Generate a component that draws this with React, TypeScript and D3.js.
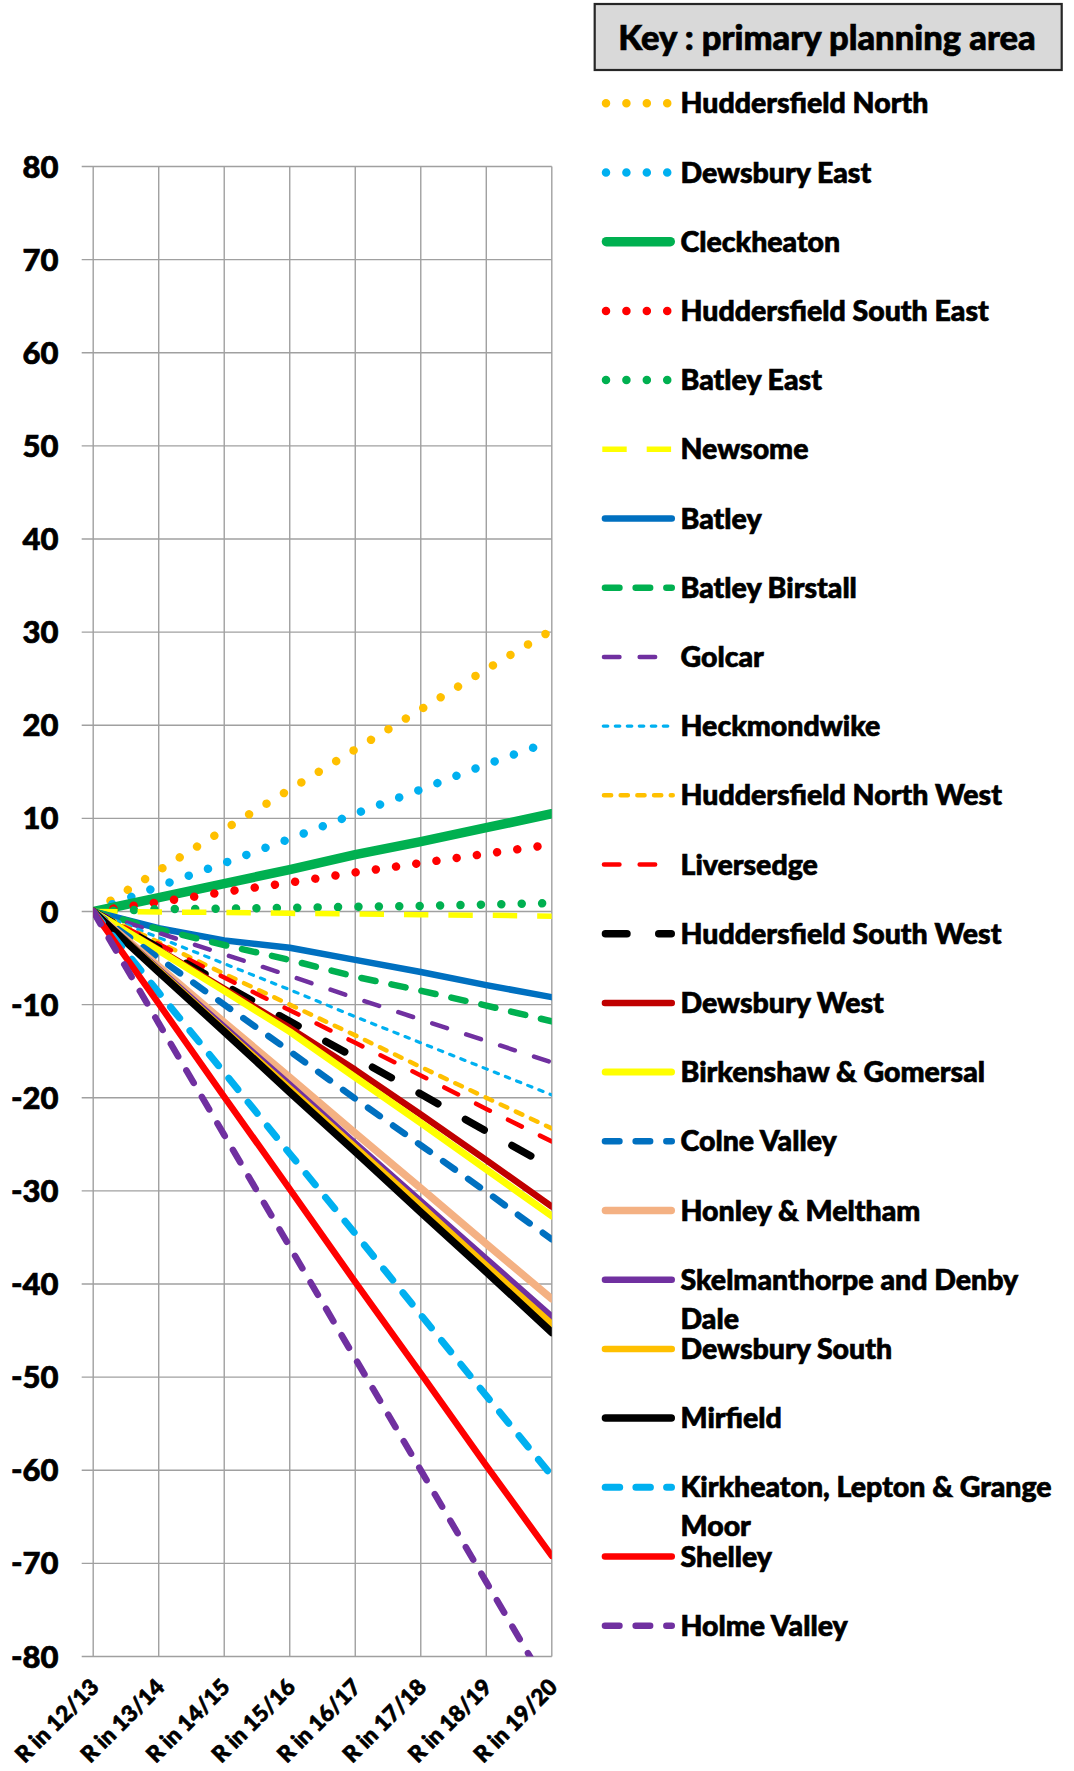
import React from 'react';
import * as d3 from 'd3';

// ---------- DATA ----------
const categories = ['R in 12/13', 'R in 13/14', 'R in 14/15', 'R in 15/16', 'R in 16/17', 'R in 17/18', 'R in 18/19', 'R in 19/20'];
const yTickValues = [80, 70, 60, 50, 40, 30, 20, 10, 0, -10, -20, -30, -40, -50, -60, -70, -80];

const huddersfieldNorth = [0, 4.4, 8.8, 13.1, 17.4, 21.7, 26.0, 30.2];
const dewsburyEast = [0, 2.7, 5.2, 7.8, 10.5, 13.1, 15.8, 18.3];
const cleckheaton = [0, 1.5, 3.0, 4.5, 6.1, 7.5, 9.0, 10.5];
const huddersfieldSouthEast = [0, 1.0, 2.1, 3.1, 4.2, 5.2, 6.2, 7.2];
const batleyEast = [0, 0.25, 0.3, 0.4, 0.5, 0.6, 0.75, 0.9];
const newsome = [0, -0.05, -0.1, -0.2, -0.25, -0.35, -0.4, -0.5];
const batley = [0, -1.8, -3.1, -3.9, -5.2, -6.5, -7.9, -9.2];
const batleyBirstall = [0, -1.9, -3.6, -5.2, -7.0, -8.5, -10.1, -11.8];
const golcar = [0, -2.3, -4.6, -6.9, -9.3, -11.6, -13.9, -16.2];
const heckmondwike = [0, -2.8, -5.6, -8.4, -11.3, -14.1, -16.9, -19.7];
const huddersfieldNorthWest = [0, -3.3, -6.7, -10.0, -13.3, -16.7, -20.0, -23.3];
const liversedge = [0, -3.5, -7.1, -10.6, -14.1, -17.6, -21.2, -24.7];
const huddersfieldSouthWest = [0, -3.9, -7.9, -11.8, -15.7, -19.6, -23.6, -27.5];
const dewsburyWest = [0, -4.1, -8.3, -12.5, -17.0, -21.8, -26.7, -31.7];
const birkenshawGomersal = [0, -4.2, -8.5, -12.9, -17.8, -22.7, -27.7, -32.7];
const colneValley = [0, -5.0, -10.0, -15.0, -20.1, -25.1, -30.1, -35.2];
const honleyMeltham = [0, -5.9, -11.9, -17.8, -23.8, -29.7, -35.7, -41.6];
const skelmanthorpe = [0, -6.2, -12.4, -18.6, -24.9, -31.1, -37.3, -43.5];
const dewsburySouth = [0, -6.3, -12.7, -19.0, -25.3, -31.6, -38.0, -44.3];
const mirfield = [0, -6.5, -12.9, -19.4, -25.8, -32.3, -38.7, -45.2];
const kirkheaton = [0, -8.7, -17.3, -26.0, -34.6, -43.3, -52.0, -60.6];
const shelley = [0, -9.9, -19.9, -29.8, -39.8, -49.6, -59.5, -69.2];
const holmeValley = [0, -12.0, -24.0, -36.0, -48.0, -60.0, -72.0, -84.0];

const seriesNames = [
  'Huddersfield North', 'Dewsbury East', 'Cleckheaton', 'Huddersfield South East', 'Batley East',
  'Newsome', 'Batley', 'Batley Birstall', 'Golcar', 'Heckmondwike', 'Huddersfield North West',
  'Liversedge', 'Huddersfield South West', 'Dewsbury West', 'Birkenshaw & Gomersal', 'Colne Valley',
  'Honley & Meltham', 'Skelmanthorpe and Denby Dale', 'Dewsbury South', 'Mirfield',
  'Kirkheaton, Lepton & Grange Moor', 'Shelley', 'Holme Valley',
];
const seriesValues = [
  huddersfieldNorth, dewsburyEast, cleckheaton, huddersfieldSouthEast, batleyEast,
  newsome, batley, batleyBirstall, golcar, heckmondwike, huddersfieldNorthWest,
  liversedge, huddersfieldSouthWest, dewsburyWest, birkenshawGomersal, colneValley,
  honleyMeltham, skelmanthorpe, dewsburySouth, mirfield, kirkheaton, shelley, holmeValley,
];

// ---------- STYLES ----------
type Style = { color: string; width: number; dash?: string; cap: 'round' | 'butt'; dots?: boolean };
const DOT = '0.01 20.4';
const LONGDASH = '14.5 16.2';
const styles: Style[] = [
  { color: '#FFC000', width: 8.5, dash: DOT, cap: 'round', dots: true },
  { color: '#00B0F0', width: 8.5, dash: DOT, cap: 'round', dots: true },
  { color: '#00B050', width: 9.5, cap: 'round' },
  { color: '#FF0000', width: 8.5, dash: DOT, cap: 'round', dots: true },
  { color: '#00B050', width: 8.5, dash: DOT, cap: 'round', dots: true },
  { color: '#FFFF00', width: 5.5, dash: '24.4 20', cap: 'butt' },
  { color: '#0070C0', width: 6.5, cap: 'round' },
  { color: '#00B050', width: 6.5, dash: LONGDASH, cap: 'round' },
  { color: '#7030A0', width: 4.5, dash: '15.5 20.2', cap: 'round' },
  { color: '#00B0F0', width: 3.2, dash: '4.5 7.5', cap: 'round' },
  { color: '#FFC000', width: 4.5, dash: '7.2 9.5', cap: 'round' },
  { color: '#FF0000', width: 4.5, dash: '15.5 20.2', cap: 'round' },
  { color: '#000000', width: 7.5, dash: '21.5 31.8', cap: 'round' },
  { color: '#C00000', width: 6.5, cap: 'round' },
  { color: '#FFFF00', width: 7, cap: 'round' },
  { color: '#0070C0', width: 6.5, dash: LONGDASH, cap: 'round' },
  { color: '#F4B183', width: 7.5, cap: 'round' },
  { color: '#7030A0', width: 6.5, cap: 'round' },
  { color: '#FFC000', width: 6.5, cap: 'round' },
  { color: '#000000', width: 7.5, cap: 'round' },
  { color: '#00B0F0', width: 7, dash: LONGDASH, cap: 'round' },
  { color: '#FF0000', width: 6.5, cap: 'round' },
  { color: '#7030A0', width: 6.5, dash: LONGDASH, cap: 'round' },
];

const legendLines: Record<string, string[]> = {
  'Skelmanthorpe and Denby Dale': ['Skelmanthorpe and Denby', 'Dale'],
  'Kirkheaton, Lepton & Grange Moor': ['Kirkheaton, Lepton & Grange', 'Moor'],
};

// ---------- LAYOUT ----------
const W = 1074;
const H = 1771;
const plotLeft = 93.2;
const plotRight = 551.8;
const plotTop = 166.5;
const plotBottom = 1656.5;
const FONT = 'Lato, "Open Sans", sans-serif';
const WEIGHT = 900;
const TEXT_STROKE = 0.7;

export default function App() {
  const x = d3.scalePoint<string>().domain(categories).range([plotLeft, plotRight]);
  const y = d3.scaleLinear().domain([-80, 80]).range([plotBottom, plotTop]);
  const line = d3
    .line<number>()
    .x((_, i) => x(categories[i]) as number)
    .y((d) => y(d));

  const legendY = d3.scaleLinear().domain([0, 1]).range([103.3, 172.5]);

  return (
    <svg
      width={W}
      height={H}
      viewBox={`0 0 ${W} ${H}`}
      style={{ position: 'absolute', left: 0, top: 0, background: '#fff' }}
      fontFamily={FONT}
      fontWeight={WEIGHT}
    >
      <defs>
        <clipPath id="plotClip">
          <rect x={plotLeft} y={plotTop - 1} width={plotRight - plotLeft} height={plotBottom - plotTop + 1} />
        </clipPath>
      </defs>
      <rect x={0} y={0} width={W} height={H} fill="#fff" />

      {/* horizontal gridlines + tick marks */}
      {yTickValues.map((v) => (
        <line key={'h' + v} x1={plotLeft - 11.5} x2={plotRight} y1={y(v)} y2={y(v)} stroke="#A0A0A0" strokeWidth={1.4} />
      ))}
      {/* vertical gridlines */}
      {categories.map((c) => (
        <line key={'v' + c} x1={x(c)} x2={x(c)} y1={plotTop} y2={plotBottom} stroke="#A0A0A0" strokeWidth={1.4} />
      ))}

      <g fill="#000" stroke="#000" strokeWidth={TEXT_STROKE}>
        {/* y labels */}
        {yTickValues.map((v) => (
          <text key={'yl' + v} x={58.5} y={y(v) + 11} textAnchor="end" fontSize={31}>
            {v}
          </text>
        ))}

        {/* x labels */}
        {categories.map((c) => (
          <text
            key={'xl' + c}
            transform={`translate(${(x(c) as number) + 7},${plotBottom + 32}) rotate(-45)`}
            textAnchor="end"
            fontSize={22.5}
          >
            {c}
          </text>
        ))}
      </g>

      {/* series */}
      <g clipPath="url(#plotClip)">
        {seriesValues.map((vals, i) => {
          const s = styles[i];
          return (
            <path
              key={'s' + i}
              d={line(vals) || ''}
              fill="none"
              stroke={s.color}
              strokeWidth={s.width}
              strokeDasharray={s.dash}
              strokeLinecap={s.cap}
              strokeLinejoin="round"
            />
          );
        })}
      </g>

      {/* legend title */}
      <rect x={594.7} y={4} width={467} height={66} fill="#D9D9D9" stroke="#262626" strokeWidth={2.2} />
      <text x={827} y={49.5} textAnchor="middle" fontSize={34.5} fill="#000" stroke="#000" strokeWidth={TEXT_STROKE}>
        Key : primary planning area
      </text>

      {/* legend entries */}
      {seriesNames.map((name, i) => {
        const s = styles[i];
        const ly = legendY(i);
        const lines = legendLines[name] || [name];
        const x1 = s.dots ? 606 : s.cap === 'butt' ? 602.3 : 601.7 + s.width / 2;
        const x2 = s.cap === 'butt' ? 675 : 675 - s.width / 2;
        return (
          <g key={'lg' + i}>
            <line
              x1={x1}
              x2={x2}
              y1={ly}
              y2={ly}
              stroke={s.color}
              strokeWidth={s.width}
              strokeDasharray={s.dash}
              strokeLinecap={s.cap}
            />
            {lines.map((t, j) => (
              <text
                key={j}
                x={680.5}
                y={ly + 10 + j * 39}
                fontSize={28.5}
                fill="#000"
                stroke="#000"
                strokeWidth={TEXT_STROKE}
              >
                {t}
              </text>
            ))}
          </g>
        );
      })}
    </svg>
  );
}
